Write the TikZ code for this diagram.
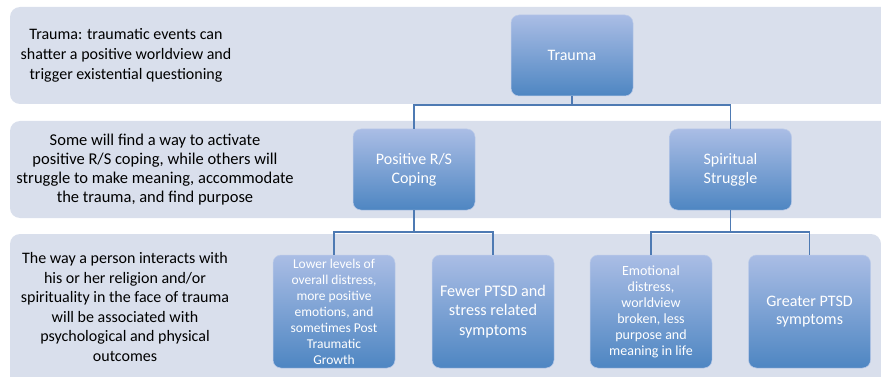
\documentclass[tikz,border=0pt]{standalone}
\usepackage{fontspec}
\setmainfont{Carlito}
\definecolor{bandfill}{HTML}{D9DFEC}
\definecolor{boxtop}{HTML}{AABDE5}
\definecolor{boxbot}{HTML}{4E86C2}
\definecolor{boxline}{HTML}{BCCBE9}
\definecolor{connc}{HTML}{4E7AB3}
\begin{document}
\begin{tikzpicture}[x=1pt,y=-1pt,
  band/.style={fill=bandfill, rounded corners=10pt, draw=none},
  box/.style={rectangle, rounded corners=8pt, top color=boxtop, bottom color=boxbot,
    draw=boxline, line width=0.5pt, text=white, align=center, inner sep=0pt,
    minimum width=122pt},
  bandtext/.style={align=center, text=black},
  connline/.style={draw=connc, line width=1.2pt}]
\useasboundingbox (0,0) rectangle (881,377);
\clip (0,0) rectangle (881,377);
% bands
\fill[band] (10,7) rectangle (900,104);
\fill[band] (10,121) rectangle (900,218);
\fill[band] (10,234) rectangle (881,395);
% band texts
\node[bandtext, font=\fontsize{16}{20}\selectfont] (t1) at (126,55) {Trauma: traumatic events can\\shatter a positive worldview and\\trigger existential questioning};
\node[bandtext, font=\fontsize{16.5}{19}\selectfont] (t2) at (155,169.5) {Some will find a way to activate\\positive R/S coping, while others will\\struggle to make meaning, accommodate\\the trauma, and find purpose};
\node[bandtext, font=\fontsize{16}{19.6}\selectfont] (t3) at (125,307) {The way a person interacts with\\his or her religion and/or\\spirituality in the face of trauma\\will be associated with\\psychological and physical\\outcomes};
% boxes
\node[box, minimum height=81pt, font=\fontsize{16}{19}\selectfont] (trauma) at (572,55.5) {Trauma};
\node[box, minimum height=81pt, font=\fontsize{16}{19}\selectfont] (pos) at (414,169.5) {Positive R/S\\Coping};
\node[box, minimum height=81pt, font=\fontsize{16}{19}\selectfont] (spir) at (730.5,169.5) {Spiritual\\Struggle};
\node[box, minimum height=113pt, font=\fontsize{13.5}{16}\selectfont] (low) at (334,311.5) {Lower levels of\\overall distress,\\more positive\\emotions, and\\sometimes Post\\Traumatic\\Growth};
\node[box, minimum height=113pt, font=\fontsize{16.2}{19.5}\selectfont] (fewer) at (493,311.5) {Fewer PTSD and\\stress related\\symptoms};
\node[box, minimum height=113pt, font=\fontsize{14}{16}\selectfont] (emo) at (651,311.5) {Emotional\\distress,\\worldview\\broken, less\\purpose and\\meaning in life};
\node[box, minimum height=113pt, font=\fontsize{16}{18.5}\selectfont] (greater) at (809.5,311.5) {Greater PTSD\\symptoms};
% connectors
\coordinate (j1) at (572,105);
\coordinate (j2) at (414,232);
\coordinate (j3) at (730.5,232);
\draw[connline] (trauma) -- (j1);
\draw[connline] (j1) -| (pos);
\draw[connline] (j1) -| (spir);
\draw[connline] (pos) -- (j2);
\draw[connline] (j2) -| (low);
\draw[connline] (j2) -| (fewer);
\draw[connline] (spir) -- (j3);
\draw[connline] (j3) -| (emo);
\draw[connline] (j3) -| (greater);
\end{tikzpicture}
\end{document}
